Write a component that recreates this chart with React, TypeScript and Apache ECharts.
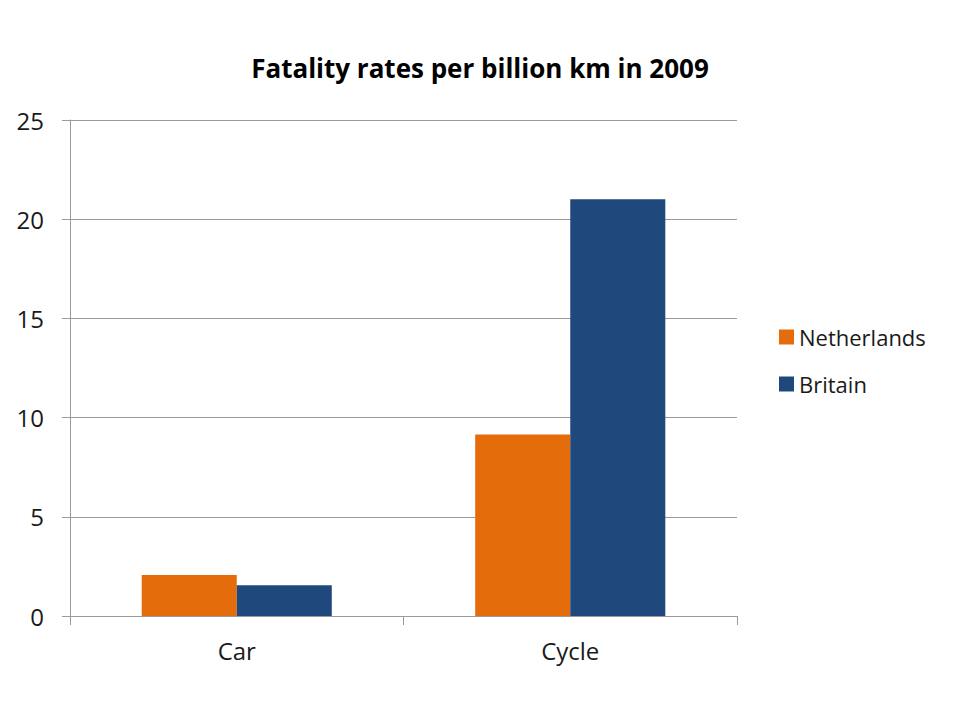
import React, { useEffect, useRef } from "react";
import * as echarts from "echarts";

const categories = ["Car", "Cycle"];
const netherlands = [2.07, 9.15];
const britain = [1.55, 21.0];
const seriesNames = ["Netherlands", "Britain"];

export default function App() {
  const ref = useRef<HTMLDivElement>(null);
  useEffect(() => {
    document.body.style.margin = "0";
    const chart = echarts.init(ref.current!, null, { renderer: "svg" });
    const font = "'Open Sans', 'Noto Sans', sans-serif";
    chart.setOption({
      animation: false,
      backgroundColor: "#ffffff",
      title: {
        text: "Fatality rates per billion km in 2009",
        left: 475,
        textAlign: "center",
        top: 50,
        textStyle: { fontFamily: font, fontSize: 26, fontWeight: "bold", color: "#000" },
      },
      legend: {
        orient: "vertical",
        left: 779,
        top: 326,
        padding: 0,
        itemWidth: 15,
        itemHeight: 15,
        itemGap: 25,
        icon: "rect",
        textStyle: { fontFamily: font, fontSize: 22, color: "#1a1a1a" },
        data: seriesNames,
      },
      grid: { left: 70, right: 223, top: 120, bottom: 104, containLabel: false },
      xAxis: {
        type: "category",
        data: categories,
        axisLine: { lineStyle: { color: "#9a9a9a", width: 1 } },
        axisTick: { show: true, length: 9, lineStyle: { color: "#9a9a9a" } },
        axisLabel: { fontFamily: font, fontSize: 24, color: "#1a1a1a", margin: 22 },
      },
      yAxis: {
        type: "value",
        min: 0,
        max: 25,
        interval: 5,
        axisLine: { show: true, lineStyle: { color: "#9a9a9a", width: 1 } },
        axisTick: { show: true, length: 8, lineStyle: { color: "#9a9a9a" } },
        splitLine: { show: true, lineStyle: { color: "#9a9a9a", width: 1 } },
        axisLabel: { fontFamily: font, fontSize: 24, color: "#1a1a1a", margin: 26 },
      },
      series: [
        {
          name: seriesNames[0],
          type: "bar",
          data: netherlands,
          barGap: "0%",
          barCategoryGap: "43%",
          itemStyle: { color: "#E46C0A" },
        },
        {
          name: seriesNames[1],
          type: "bar",
          data: britain,
          barGap: "0%",
          barCategoryGap: "43%",
          itemStyle: { color: "#1F497D" },
        },
      ],
    });
    return () => chart.dispose();
  }, []);
  return <div ref={ref} style={{ width: 960, height: 720 }} />;
}
